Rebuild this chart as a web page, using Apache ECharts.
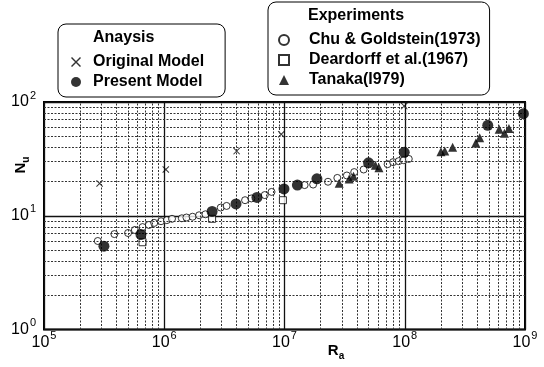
<!DOCTYPE html>
<html><head><meta charset="utf-8">
<script src="https://cdn.jsdelivr.net/npm/echarts@6/dist/echarts.min.js"></script>
<style>html,body{margin:0;padding:0;background:#fff}#c{width:544px;height:367px}</style>
</head><body><div id="c"></div>
<script>
// ---- data ----
const origRa = [2.9e5, 1.03e6, 4.0e6, 9.4e6, 9.9e7];
const origNu = [19.2, 25.5, 37, 52, 92];

const presRa = [3.15e5, 6.4e5, 2.5e6, 3.95e6, 5.9e6, 9.9e6, 1.28e7, 1.86e7, 5.0e7, 9.9e7, 4.9e8, 9.7e8];
const presNu = [5.4, 6.85, 10.9, 12.7, 14.5, 17.2, 18.6, 21.1, 29.2, 36.1, 62.4, 79];

const chuRa = [2.8e5, 3.85e5, 5.0e5, 5.7e5, 6.6e5, 7.45e5, 8.25e5, 9.4e5, 1.05e6, 1.16e6, 1.4e6, 1.53e6, 1.72e6,
  1.95e6, 2.2e6, 2.95e6, 3.3e6, 4.7e6, 5.3e6, 6.85e6, 7.8e6, 1.47e7, 1.73e7, 2.3e7, 2.75e7, 3.3e7, 3.8e7,
  4.55e7, 7.2e7, 8.0e7, 8.9e7, 9.8e7, 1.08e8];
const chuNu = [6.0, 6.9, 7.05, 7.5, 7.95, 8.3, 8.65, 8.95, 9.15, 9.4, 9.5, 9.65, 9.8,
  10.1, 10.3, 11.8, 12.2, 13.7, 14.2, 15.2, 16.2, 18.6, 18.8, 19.9, 21.5, 22.6, 24.2,
  25.5, 28.4, 29.6, 30.2, 30.8, 31.6];

const deaRa = [6.6e5, 2.5e6, 9.7e6];
const deaNu = [5.85, 9.4, 13.7];

const tanRa = [2.85e7, 3.45e7, 3.75e7, 5.7e7, 6.1e7, 2.0e8, 2.15e8, 2.5e8, 3.9e8, 4.2e8, 6.1e8, 6.75e8, 7.35e8];
const tanNu = [19.3, 21.0, 22.3, 27.8, 26.4, 36.5, 37.0, 40.0, 43.5, 48.5, 57.5, 53.0, 58.5];

const seriesNames = ['Original Model', 'Present Model', 'Chu & Goldstein(1973)', 'Deardorff et al.(1967)', 'Tanaka(I979)'];
const legendTitles = ['Anaysis', 'Experiments'];
const xTickValues = [1e5, 1e6, 1e7, 1e8, 1e9];
const yTickValues = [1, 10, 100];
const minorMultipliers = [2, 3, 4, 5, 6, 7, 8, 9];

// ---- build ----
const zip = (a, b) => a.map((v, i) => [v, b[i]]);
const xMinor = [];
xTickValues.slice(0, -1).forEach(d => minorMultipliers.forEach(m => xMinor.push(d * m)));
const yMinor = [];
yTickValues.slice(0, -1).forEach(d => minorMultipliers.forEach(m => yMinor.push(d * m)));

const FONT = '"Liberation Sans", Arial, Helvetica, sans-serif';
const crossPath = 'path://M0,1L1,0L10,9L9,10ZM9,0L10,1L1,10L0,9Z';
const expFmt = v => '{b|10}{s|' + Math.round(Math.log10(v)) + '}';
const tickRich = {
  b: { fontSize: 16, fontFamily: FONT, color: '#000', lineHeight: 16, verticalAlign: 'bottom' },
  s: { fontSize: 11, fontFamily: FONT, color: '#000', lineHeight: 11, verticalAlign: 'bottom', padding: [0, 0, 9, 1] }
};
const nameRich = {
  b: { fontSize: 15, fontWeight: 'bold', fontFamily: FONT, fill: '#000', lineHeight: 15, verticalAlign: 'bottom', padding: [0, 0, 3, 0] },
  s: { fontSize: 10, fontWeight: 'bold', fontFamily: FONT, fill: '#000', lineHeight: 10, verticalAlign: 'bottom' }
};

const chart = echarts.init(document.getElementById('c'), null, { renderer: 'canvas' });
chart.setOption({
  animation: false,
  backgroundColor: '#fff',
  grid: { left: 44, right: 19, top: 102, bottom: 37.5, show: true, borderColor: '#000', borderWidth: 2, backgroundColor: 'transparent' },
  xAxis: {
    type: 'log', logBase: 10, min: xTickValues[0], max: xTickValues[xTickValues.length - 1], splitNumber: 4,
    axisLine: { show: false }, axisTick: { show: false },
    splitLine: { show: true, lineStyle: { color: '#111', width: 1.3 } },
    axisLabel: { margin: 5, formatter: expFmt, rich: tickRich }
  },
  yAxis: {
    type: 'log', logBase: 10, min: yTickValues[0], max: yTickValues[yTickValues.length - 1], splitNumber: 2,
    axisLine: { show: false }, axisTick: { show: false },
    splitLine: { show: true, lineStyle: { color: '#111', width: 1.3 } },
    axisLabel: { margin: 8, formatter: expFmt, rich: tickRich }
  },
  legend: [
    {
      data: seriesNames.slice(0, 2), orient: 'vertical', left: 58, top: 24,
      padding: [30, 21, 7, 13], itemWidth: 10, itemHeight: 10, itemGap: 4,
      borderColor: '#000', borderWidth: 1, borderRadius: 8,
      textStyle: { fontFamily: FONT, fontWeight: 'bold', fontSize: 16, color: '#000', padding: [0, 0, 0, 7] }
    },
    {
      data: seriesNames.slice(2), orient: 'vertical', left: 268, top: 2,
      padding: [30, 9, 7, 10], itemWidth: 10, itemHeight: 10, itemGap: 4,
      borderColor: '#000', borderWidth: 1, borderRadius: 8,
      textStyle: { fontFamily: FONT, fontWeight: 'bold', fontSize: 16, color: '#000', padding: [0, 0, 0, 15] }
    }
  ],
  graphic: [
    { type: 'text', x: 93, y: 38, z: 100, style: { text: legendTitles[0], font: 'bold 16px ' + FONT, fill: '#000', verticalAlign: 'middle', align: 'left' } },
    { type: 'text', x: 308, y: 16, z: 100, style: { text: legendTitles[1], font: 'bold 16px ' + FONT, fill: '#000', verticalAlign: 'middle', align: 'left' } },
    { type: 'text', x: 24, y: 165, rotation: Math.PI / 2, z: 100, style: { text: '{b|N}{s|u}', rich: nameRich, align: 'center', verticalAlign: 'middle' } },
    { type: 'text', x: 336, y: 354, z: 100, style: { text: '{b|R}{s|a}', rich: nameRich, align: 'center', verticalAlign: 'middle' } }
  ],
  series: [
    {
      name: 'grid', type: 'line', data: [], silent: true, z: 1,
      markLine: {
        silent: true, symbol: ['none', 'none'], label: { show: false }, animation: false,
        lineStyle: { type: [2, 1.5], color: '#333', width: 1 },
        emphasis: { disabled: true },
        data: xMinor.map(v => ({ xAxis: v })).concat(yMinor.map(v => ({ yAxis: v })))
      }
    },
    {
      name: seriesNames[2], type: 'scatter', data: zip(chuRa, chuNu), symbol: 'circle', symbolSize: 7, z: 3,
      itemStyle: { color: '#fff', borderColor: '#000', borderWidth: 1 }
    },
    {
      name: seriesNames[3], type: 'scatter', data: zip(deaRa, deaNu), symbol: 'rect', symbolSize: 7, z: 3,
      itemStyle: { color: '#fff', borderColor: '#000', borderWidth: 1 }
    },
    {
      name: seriesNames[4], type: 'scatter', data: zip(tanRa, tanNu), symbol: 'triangle', symbolSize: 9, z: 4,
      itemStyle: { color: '#000' }
    },
    {
      name: seriesNames[0], type: 'scatter', data: zip(origRa, origNu), symbol: crossPath, symbolSize: 7, z: 4,
      itemStyle: { color: '#000' }
    },
    {
      name: seriesNames[1], type: 'scatter', data: zip(presRa, presNu), symbol: 'circle', symbolSize: 11, z: 5,
      itemStyle: { color: '#000' }
    }
  ]
});
</script>
</body></html>
